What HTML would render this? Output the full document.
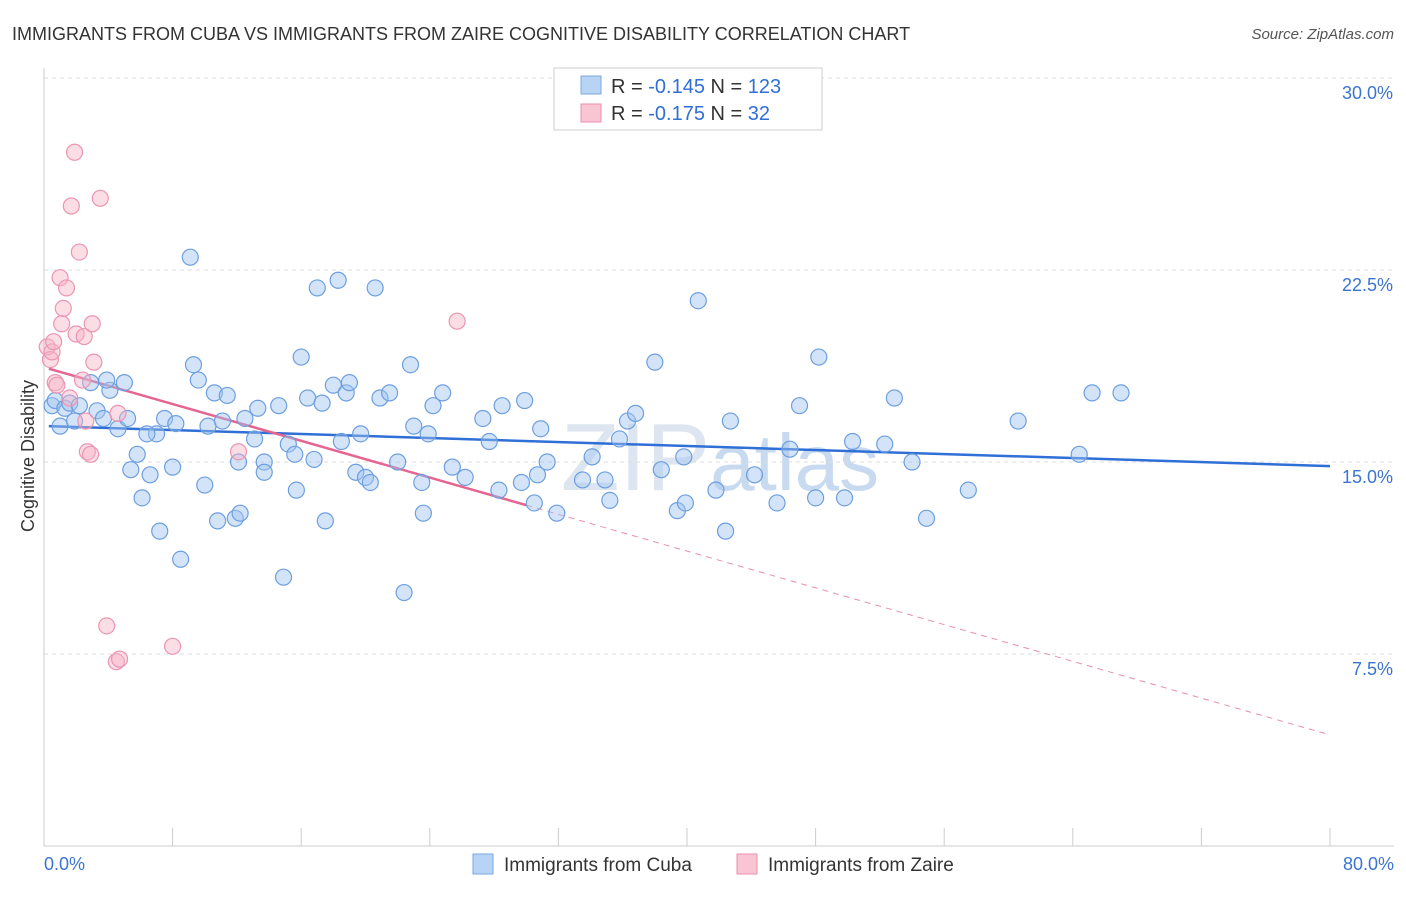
<!DOCTYPE html>
<html><head><meta charset="utf-8"><style>
body{margin:0;background:#fff;font-family:"Liberation Sans",sans-serif;}
svg text{font-family:"Liberation Sans",sans-serif;}
</style></head><body>
<svg id="chart" width="1406" height="892">
<text x="12" y="40" font-size="18" fill="#333">IMMIGRANTS FROM CUBA VS IMMIGRANTS FROM ZAIRE COGNITIVE DISABILITY CORRELATION CHART</text>
<text x="1394" y="39" font-size="15" fill="#555" font-style="italic" text-anchor="end">Source: ZipAtlas.com</text>
<text x="720" y="490" font-size="96" fill="#dde6f0" text-anchor="middle" font-family="Liberation Serif">ZIP<tspan font-family="Liberation Sans" font-size="80" fill="#c8daf0">atlas</tspan></text>
<g id="grid"></g>
<g id="axes"></g>
<g id="lines"></g>
<g id="pts"></g>
<text x="34" y="456" font-size="18" fill="#333" text-anchor="middle" transform="rotate(-90 34 456)">Cognitive Disability</text>
<g>
<rect x="554" y="68" width="268" height="62" fill="#fff" stroke="#ccc"/>
<rect x="581" y="76" width="20" height="18" fill="#b8d4f5" stroke="#7aa8e0"/>
<text x="611" y="93" font-size="20" fill="#333">R = <tspan fill="#2f6fd6">-0.145</tspan>   N = <tspan fill="#2f6fd6">123</tspan></text>
<rect x="581" y="104" width="20" height="18" fill="#f9c4d4" stroke="#eb8fae"/>
<text x="611" y="120" font-size="20" fill="#333">R = <tspan fill="#2f6fd6">-0.175</tspan>   N = <tspan fill="#2f6fd6"> 32</tspan></text>
</g>
<g>
<rect x="473" y="854" width="20" height="20" fill="#b8d4f5" stroke="#7aa8e0"/>
<text x="504" y="871" font-size="19" fill="#333">Immigrants from Cuba</text>
<rect x="737" y="854" width="20" height="20" fill="#f9c4d4" stroke="#eb8fae"/>
<text x="768" y="871" font-size="19" fill="#333">Immigrants from Zaire</text>
</g>
</svg>
<script>
const cubaX=[0.5,0.7,1.0,1.3,1.6,1.9,2.2,2.9,3.3,3.7,4.1,3.9,4.6,5.0,5.2,5.4,5.8,6.1,6.6,7.0,6.4,7.2,7.5,8.0,8.2,8.5,9.1,9.3,9.6,10.0,10.2,10.6,10.8,11.1,11.4,11.9,12.2,12.1,12.5,13.1,13.3,13.7,13.7,14.6,14.9,15.2,15.6,15.7,16.0,16.4,16.8,17.0,17.3,17.5,18.0,18.3,18.5,18.8,19.0,19.4,19.7,20.0,20.3,20.6,20.9,21.5,22.0,22.4,22.8,23.0,23.5,23.6,23.9,24.2,24.8,25.4,26.2,27.3,27.7,28.3,28.5,29.7,29.9,30.5,30.7,30.9,31.3,31.9,33.5,34.1,34.9,35.2,35.8,36.3,36.8,38.0,38.4,39.4,39.9,39.8,40.7,41.8,42.4,42.7,44.2,45.6,46.4,47.0,48.0,48.2,49.8,50.3,52.3,52.9,54.0,54.9,57.5,60.6,64.4,65.2,67.0];
const cubaY=[17.2,17.4,16.4,17.1,17.3,16.6,17.2,18.1,17.0,16.7,17.8,18.2,16.3,18.1,16.7,14.7,15.3,13.6,14.5,16.1,16.1,12.3,16.7,14.8,16.5,11.2,23.0,18.8,18.2,14.1,16.4,17.7,12.7,16.6,17.6,12.8,13.0,15.0,16.7,15.9,17.1,15.0,14.6,17.2,10.5,15.7,15.3,13.9,19.1,17.5,15.1,21.8,17.3,12.7,18.0,22.1,15.8,17.7,18.1,14.6,16.1,14.4,14.2,21.8,17.5,17.7,15.0,9.9,18.8,16.4,14.2,13.0,16.1,17.2,17.7,14.8,14.4,16.7,15.8,13.9,17.2,14.2,17.4,13.4,14.5,16.3,15.0,13.0,14.3,15.2,14.3,13.5,15.9,16.6,16.9,18.9,14.7,13.1,13.4,15.2,21.3,13.9,12.3,16.6,14.5,13.4,15.5,17.2,13.6,19.1,13.6,15.8,15.7,17.5,15.0,12.8,13.9,16.6,15.3,17.7,17.7];
const zaireX=[0.2,0.4,0.5,0.7,0.8,1.0,1.1,1.2,1.4,1.6,1.7,1.9,2.0,2.2,2.4,2.5,2.6,2.7,2.9,3.0,3.1,3.5,3.9,4.5,4.7,4.6,8.0,12.1,25.7,0.6];
const zaireY=[19.5,19.0,19.3,18.1,18.0,22.2,20.4,21.0,21.8,17.5,25.0,27.1,20.0,23.2,18.2,19.9,16.6,15.4,15.3,20.4,18.9,25.3,8.6,7.2,7.3,16.9,7.8,15.4,20.5,19.7];
const yTicks=[7.5,15.0,22.5,30.0];
const xTickLabels=["0.0%","80.0%"];
const cubaTrend=[16.4,14.84];
const zaireTrend=[18.7,4.34];
const zaireSolidEnd=30;

const X=v=>44+v/80*1286, Y=v=>846-v*25.6;
const NS="http://www.w3.org/2000/svg";
function mk(tag,attrs,parent){const e=document.createElementNS(NS,tag);for(const k in attrs)e.setAttribute(k,attrs[k]);document.getElementById(parent).appendChild(e);return e;}
yTicks.forEach(t=>{
 const l=mk('line',{x1:44,x2:1394,y1:Y(t),y2:Y(t),stroke:'#ddd','stroke-dasharray':'4,4'},'grid');
 
 
 const tx=mk('text',{x:1393,y:Y(t)+21,'font-size':18,fill:'#3b74d1','text-anchor':'end'},'grid');
 tx.textContent=t.toFixed(1)+'%';
 
 
});
const ax=mk('line',{x1:44,x2:44,y1:68,y2:846,stroke:'#ccc'},'axes');


const bx=mk('line',{x1:44,x2:1394,y1:846,y2:846,stroke:'#ccc'},'axes');


for(let i=1;i<=10;i++){const t=mk('line',{x1:44+i*128.6,x2:44+i*128.6,y1:828,y2:846,stroke:'#ccc'},'axes');
 
 }
const xl0=mk('text',{x:44,y:870,'font-size':18,fill:'#3b74d1'},'axes');xl0.textContent=xTickLabels[0];


const xl1=mk('text',{x:1394,y:870,'font-size':18,fill:'#3b74d1','text-anchor':'end'},'axes');xl1.textContent=xTickLabels[1];



cubaX.forEach((x,i)=>{const c=mk('circle',{cx:X(x),cy:Y(cubaY[i]),r:8,fill:'rgba(160,196,240,0.45)',stroke:'#6d9fe0','stroke-width':1.2},'pts');
 
 });
zaireX.forEach((x,i)=>{const c=mk('circle',{cx:X(x),cy:Y(zaireY[i]),r:8,fill:'rgba(246,180,200,0.45)',stroke:'#eb95b2','stroke-width':1.2},'pts');
 
 });
const zl=v=>zaireTrend[0]+(zaireTrend[1]-zaireTrend[0])*v/80;
const bl=mk('line',{x1:X(0.3),y1:Y(cubaTrend[0]),x2:X(80),y2:Y(cubaTrend[1]),stroke:'#2f6fd6','stroke-width':2.5},'lines');


const pl=mk('line',{x1:X(0.3),y1:Y(zl(0.3)),x2:X(zaireSolidEnd),y2:Y(zl(zaireSolidEnd)),stroke:'#e66590','stroke-width':2.5},'lines');


const pd=mk('line',{x1:X(zaireSolidEnd),y1:Y(zl(zaireSolidEnd)),x2:X(80),y2:Y(zl(80)),stroke:'#e890ad','stroke-width':1,'stroke-dasharray':'6,5'},'lines');


</script>
</body></html>
